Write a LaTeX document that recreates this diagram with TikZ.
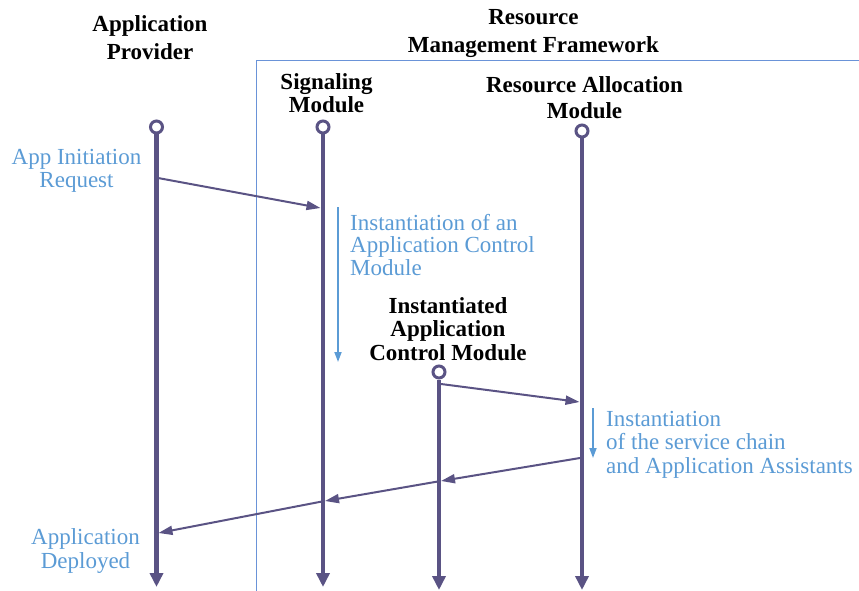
\documentclass[tikz,border=0pt]{standalone}
\usepackage{fontspec}
\setmainfont{Liberation Serif}
\usetikzlibrary{arrows.meta}
\definecolor{lifec}{HTML}{5A5384}
\definecolor{notec}{HTML}{5B9BD5}
\definecolor{framec}{HTML}{6A93D8}
\begin{document}
\begin{tikzpicture}[x=1pt,y=-1pt,
  head/.style={font=\fontsize{23}{#1}\bfseries\selectfont, align=center, anchor=base, inner sep=0},
  note/.style={font=\fontsize{23}{#1}\selectfont, text=notec, anchor=base, inner sep=0},
  lifeline/.style={draw=lifec, line width=4.5pt, -{Triangle[width=13pt,length=14pt]}},
  dot/.style={circle, draw=lifec, line width=3pt, fill=white, minimum size=12pt, inner sep=0},
  msg/.style={draw=lifec, line width=2pt, -{Triangle[width=9pt,length=14pt]}},
  act/.style={draw=notec, line width=1.7pt, -{Triangle[width=7pt,length=10pt]}},
  frameline/.style={draw=framec, line width=1.3pt}]
\useasboundingbox (0,0) rectangle (859,591);

% frame of the Resource Management Framework
\coordinate (fB) at (256.7,591);
\coordinate (fC) at (256.7,60.7);
\coordinate (fR) at (859,60.7);
\draw[frameline] (fB) -- (fC) -- (fR);

% headings (anchor = baseline of the last line)
\node[head=28] (apL) at (150,60) {Application\\Provider};
\node[head=28] (rmfL) at (533.5,53) {Resource\\Management Framework};
\node[head=23] (smL) at (326.5,113) {Signaling\\Module};
\node[head=26] (raL) at (584.5,119) {Resource Allocation\\Module};
\node[head=23.5] (acL) at (448,360) {Instantiated\\Application\\Control Module};

% lifelines
\node[dot] (apT) at (156.5,127) {};
\node[dot] (smT) at (323,127) {};
\node[dot] (raT) at (582,131) {};
\node[dot] (acT) at (439,372) {};
\coordinate (apB) at (156.5,587);
\coordinate (smB) at (323,587);
\coordinate (raB) at (582,590);
\coordinate (acB) at (439,590);
\draw[lifeline] (apT.south) -- (apB);
\draw[lifeline] (smT.south) -- (smB);
\draw[lifeline] (raT.south) -- (raB);
\draw[lifeline] (acT.south) -- (acB);

% messages
\coordinate (m1s) at (158,178);
\coordinate (m1e) at (320.5,208);
\draw[msg] (m1s) -- (m1e);
\coordinate (m2s) at (441,384);
\coordinate (m2e) at (579.5,402);
\draw[msg] (m2s) -- (m2e);
\coordinate (m3s) at (580,458);
\coordinate (m3e) at (441,481);
\draw[msg] (m3s) -- (m3e);
\coordinate (m4s) at (439,481.3);
\coordinate (m4e) at (325,501);
\draw[msg] (m4s) -- (m4e);
\coordinate (m5s) at (323,501.3);
\coordinate (m5e) at (158.5,533);
\draw[msg] (m5s) -- (m5e);

% activity arrows
\coordinate (a1s) at (338,207);
\coordinate (a1e) at (338,362);
\draw[act] (a1s) -- (a1e);
\coordinate (a2s) at (593,408);
\coordinate (a2e) at (593,458);
\draw[act] (a2s) -- (a2e);

% notes (anchor = baseline of the last line)
\node[note=23, align=center] (n1) at (76.5,187) {App Initiation\\Request};
\node[note=22.5, align=left, anchor=base west] (n2) at (350,275) {Instantiation of an\\Application Control\\Module};
\node[note=23.5, align=left, anchor=base west] (n3) at (606,473) {Instantiation\\of the service chain\\and Application Assistants};
\node[note=24, align=center] (n4) at (85.5,568) {Application\\Deployed};
\end{tikzpicture}
\end{document}
